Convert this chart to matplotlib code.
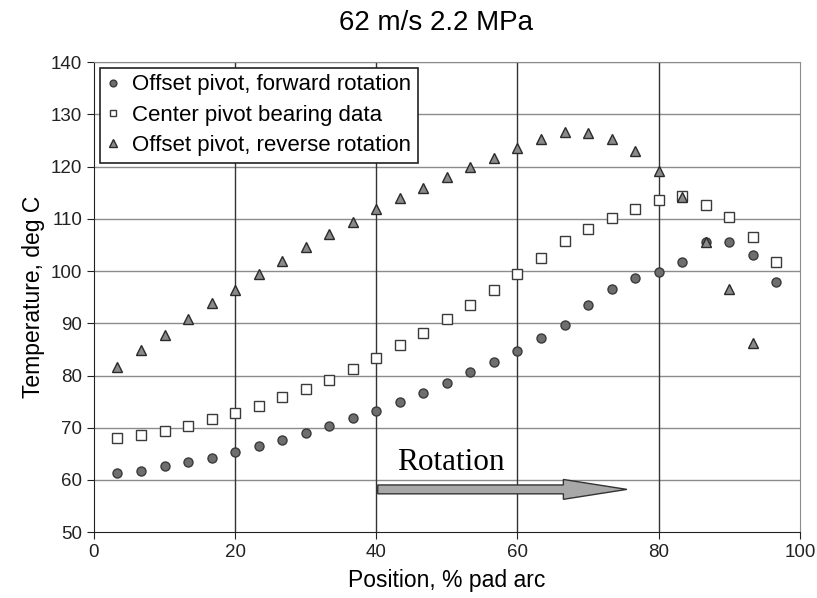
import matplotlib
matplotlib.use("Agg")
import matplotlib.pyplot as plt
from matplotlib.patches import FancyArrow

# position along the pad arc, % (every 1/30 of the arc)
pos = [3.33, 6.67, 10.0, 13.33, 16.67, 20.0, 23.33, 26.67, 30.0, 33.33,
       36.67, 40.0, 43.33, 46.67, 50.0, 53.33, 56.67, 60.0, 63.33, 66.67,
       70.0, 73.33, 76.67, 80.0, 83.33, 86.67, 90.0, 93.33, 96.67]

fwd = [61.4, 61.8, 62.7, 63.4, 64.3, 65.4, 66.5, 67.6, 69.0, 70.4,
       71.8, 73.2, 75.0, 76.7, 78.6, 80.7, 82.6, 84.7, 87.1, 89.7,
       93.6, 96.6, 98.7, 99.8, 101.7, 105.5, 105.5, 103.0, 98.0]

center = [68.0, 68.6, 69.4, 70.3, 71.6, 72.9, 74.2, 75.8, 77.4, 79.2,
          81.3, 83.4, 85.9, 88.2, 90.9, 93.6, 96.4, 99.4, 102.5, 105.7,
          108.1, 110.1, 111.9, 113.7, 114.3, 112.7, 110.3, 106.6, 101.8]

rev = [81.7, 84.8, 87.8, 90.9, 93.9, 96.4, 99.4, 102.0, 104.6, 107.1,
       109.4, 111.9, 114.0, 115.9, 118.1, 119.9, 121.7, 123.6, 125.3, 126.6,
       126.4, 125.2, 122.9, 119.1, 114.1, 105.5, 96.6, 86.3]

plt.rcParams['font.family'] = ['Liberation Sans', 'DejaVu Sans']

fig = plt.figure(figsize=(8.17, 5.98), dpi=100)
ax = fig.add_axes([0.115, 0.110, 0.864, 0.786])

ax.plot(pos, fwd, 'o', ms=6.5, mfc='#6e6e6e', mec='#3a3a3a', mew=1,
        label='Offset pivot, forward rotation', zorder=3)
ax.plot(pos, center, 's', ms=6.5, mfc='white', mec='#3a3a3a', mew=1,
        label='Center pivot bearing data', zorder=3)
ax.plot(pos[:len(rev)], rev, '^', ms=7, mfc='#8a8a8a', mec='#2a2a2a', mew=1,
        label='Offset pivot, reverse rotation', zorder=3)

ax.set_xlim(0, 100)
ax.set_ylim(50, 140)
ax.set_xticks(range(0, 101, 20))
ax.set_yticks(range(50, 141, 10))
for y in range(60, 141, 10):
    ax.axhline(y, color='#8c8c8c', lw=1, zorder=1)
for x in range(20, 100, 20):
    ax.axvline(x, color='#333333', lw=1, zorder=1)

for s in ['top', 'right']:
    ax.spines[s].set_color('#8c8c8c')
for s in ['left', 'bottom']:
    ax.spines[s].set_color('#222222')
ax.tick_params(labelsize=13.5, length=5, direction='out', colors='#222222')

ax.set_xlabel('Position, % pad arc', fontsize=16.5, labelpad=6)
ax.set_ylabel('Temperature, deg C', fontsize=16.5, labelpad=4)
fig.text(0.534, 0.962, '62 m/s 2.2 MPa', fontsize=20, ha='center', va='center')

leg = ax.legend(loc='upper left', fontsize=16, fancybox=False, framealpha=1,
                edgecolor='#222222', handlelength=0.6, handletextpad=0.55,
                borderaxespad=0.25, labelspacing=0.42, markerscale=0.75,
                borderpad=0.3)
leg.get_frame().set_linewidth(1.2)

# rotation direction arrow
ax.add_patch(FancyArrow(40.2, 58.2, 35.3, 0, width=1.7, head_width=3.8,
                        head_length=9, length_includes_head=True,
                        fc='#a8a8a8', ec='#333333', lw=1, zorder=4))
ax.text(43, 60.6, 'Rotation', family='Liberation Serif', fontsize=22.5,
        ha='left', va='bottom', zorder=4)

fig.savefig('out.png', dpi=100)
